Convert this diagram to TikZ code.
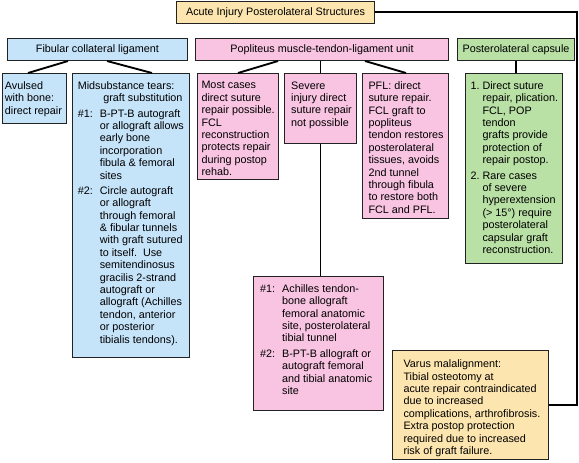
\documentclass[tikz,border=0pt]{standalone}
\usepackage{fontspec}
\setmainfont{Liberation Sans}
\usetikzlibrary{calc}
\definecolor{fclblue}{HTML}{C5E3F9}
\definecolor{poppink}{HTML}{F8C4E2}
\definecolor{capgreen}{HTML}{B9E0A5}
\definecolor{acuteyellow}{HTML}{FCE5AE}
\definecolor{boxline}{HTML}{222222}
\hyphenpenalty=10000
\exhyphenpenalty=10000
\newlength{\hangw}\setlength{\hangw}{16.5pt}
\newcommand{\hitem}[2][\hangw]{\par\hangindent=#1\hangafter=1\noindent\makebox[#1][l]{#2}\ignorespaces}
\newcommand{\gap}{\par\vspace{2.2pt}}
% #1 width px, #2 height px, #3 left pad, #4 top pad, #5 text
\newcommand{\bxt}[5]{\parbox[t][\dimexpr #2pt*3/4\relax][t]{\dimexpr #1pt*3/4\relax}{%
  \vspace*{#4}\leftskip=#3\rightskip=-2pt plus 1fil\parfillskip=0pt plus 1fil\relax\noindent #5}}
\begin{document}
\begin{tikzpicture}[x=0.75pt,y=-0.75pt,
  boxbase/.style={draw=boxline, line width=0.75pt, inner sep=0pt, anchor=north west,
    font=\fontsize{8.1}{9.3}\selectfont},
  hdr/.style={boxbase, minimum height=16.5pt, align=center},
  cell/.style={boxbase, align=left},
  conn/.style={draw=black, line width=1.4pt}]
\useasboundingbox (0,0) rectangle (579,462);

% top
\node[hdr, fill=acuteyellow, minimum width=148.5pt, minimum height=16.9pt] (top) at (176,0.5) {Acute Injury Posterolateral Structures};

% level 2
\node[hdr, fill=fclblue, minimum width=135pt] (fcl) at (7,38) {Fibular collateral ligament};
\node[hdr, fill=poppink, minimum width=189.75pt] (pop) at (195,38) {Popliteus muscle-tendon-ligament unit};
\node[hdr, fill=capgreen, minimum width=87.75pt] (plc) at (457,38) {Posterolateral capsule};

% level 3
\node[cell, fill=fclblue] (avul) at (2,73) {\bxt{64}{50}{1.8pt}{6pt}{Avulsed\\with bone:\\direct repair}};
\node[cell, fill=fclblue] (mid) at (72,73) {\bxt{117}{284}{4pt}{6pt}{Midsubstance tears:\\\makebox[78.5pt][r]{graft substitution}\gap
\hitem{\#1:}B-PT-B autograft\\or allograft allows\\early bone\\incorporation\\fibula \& femoral\\sites\gap
\hitem{\#2:}Circle autograft\\or allograft\\through femoral\\\& fibular tunnels\\with graft sutured\\to itself.\ \ Use\\semitendinosus\\gracilis 2-strand\\autograft or\\allograft (Achilles\\tendon, anterior\\or posterior\\tibialis tendons).}};
\node[cell, fill=poppink] (most) at (197,73) {\bxt{81}{106}{3pt}{6pt}{Most cases\\direct suture\\repair possible.\\FCL\\reconstruction\\protects repair\\during postop\\rehab.}};
\node[cell, fill=poppink] (sev) at (284,73) {\bxt{72}{70}{5pt}{6pt}{Severe\\injury direct\\suture repair\\not possible}};
\node[cell, fill=poppink] (pfl) at (362,73) {\bxt{86}{145}{4.5pt}{6pt}{PFL: direct\\suture repair.\\FCL graft to\\popliteus\\tendon restores\\posterolateral\\tissues, avoids\\2nd tunnel\\through fibula\\to restore both\\FCL and PFL.}};
\node[cell, fill=capgreen] (cap) at (465,73) {\bxt{97}{190}{3.75pt}{6pt}{\hitem[9pt]{1.}Direct suture\\repair, plication.\\FCL, POP\\tendon\\grafts provide\\protection of\\repair postop.\gap
\hitem[9pt]{2.}Rare cases\\of severe\\hyperextension\\(> 15°) require\\posterolateral\\capsular graft\\reconstruction.}};

% level 4
\node[cell, fill=poppink] (ach) at (253,276) {\bxt{130}{134}{5pt}{6pt}{\hitem{\#1:}Achilles tendon-\\bone allograft\\femoral anatomic\\site, posterolateral\\tibial tunnel\gap
\hitem{\#2:}B-PT-B allograft or\\autograft femoral\\and tibial anatomic\\site}};
\node[cell, fill=acuteyellow] (var) at (392,350) {\bxt{156}{109}{8.25pt}{7pt}{Varus malalignment:\\Tibial osteotomy at\\acute repair contraindicated\\due to increased\\complications, arthrofibrosis.\\Extra postop protection\\required due to increased\\risk of graft failure.}};

% connectors
\draw[conn] ($(fcl.south west)+(61,0)$) -- ($(avul.north west)+(26,0)$);
\draw[conn] ($(fcl.south west)+(100,0)$) -- ($(mid.north west)+(80,0)$);
\draw[conn] ($(pop.south west)+(83,0)$) -- ($(most.north west)+(41,0)$);
\draw[conn] (pop.south -| sev.north) -- (sev.north);
\draw[conn] ($(pop.south west)+(170,0)$) -- ($(pfl.north west)+(44,0)$);
\draw[conn] (plc.south) -- (plc.south |- cap.north);
\draw[conn] (sev.south) -- (sev.south |- ach.north);
\coordinate (rc) at (577,405);
\draw[conn] (top.east) -| (rc) -- (var.east |- rc);
\end{tikzpicture}
\end{document}
